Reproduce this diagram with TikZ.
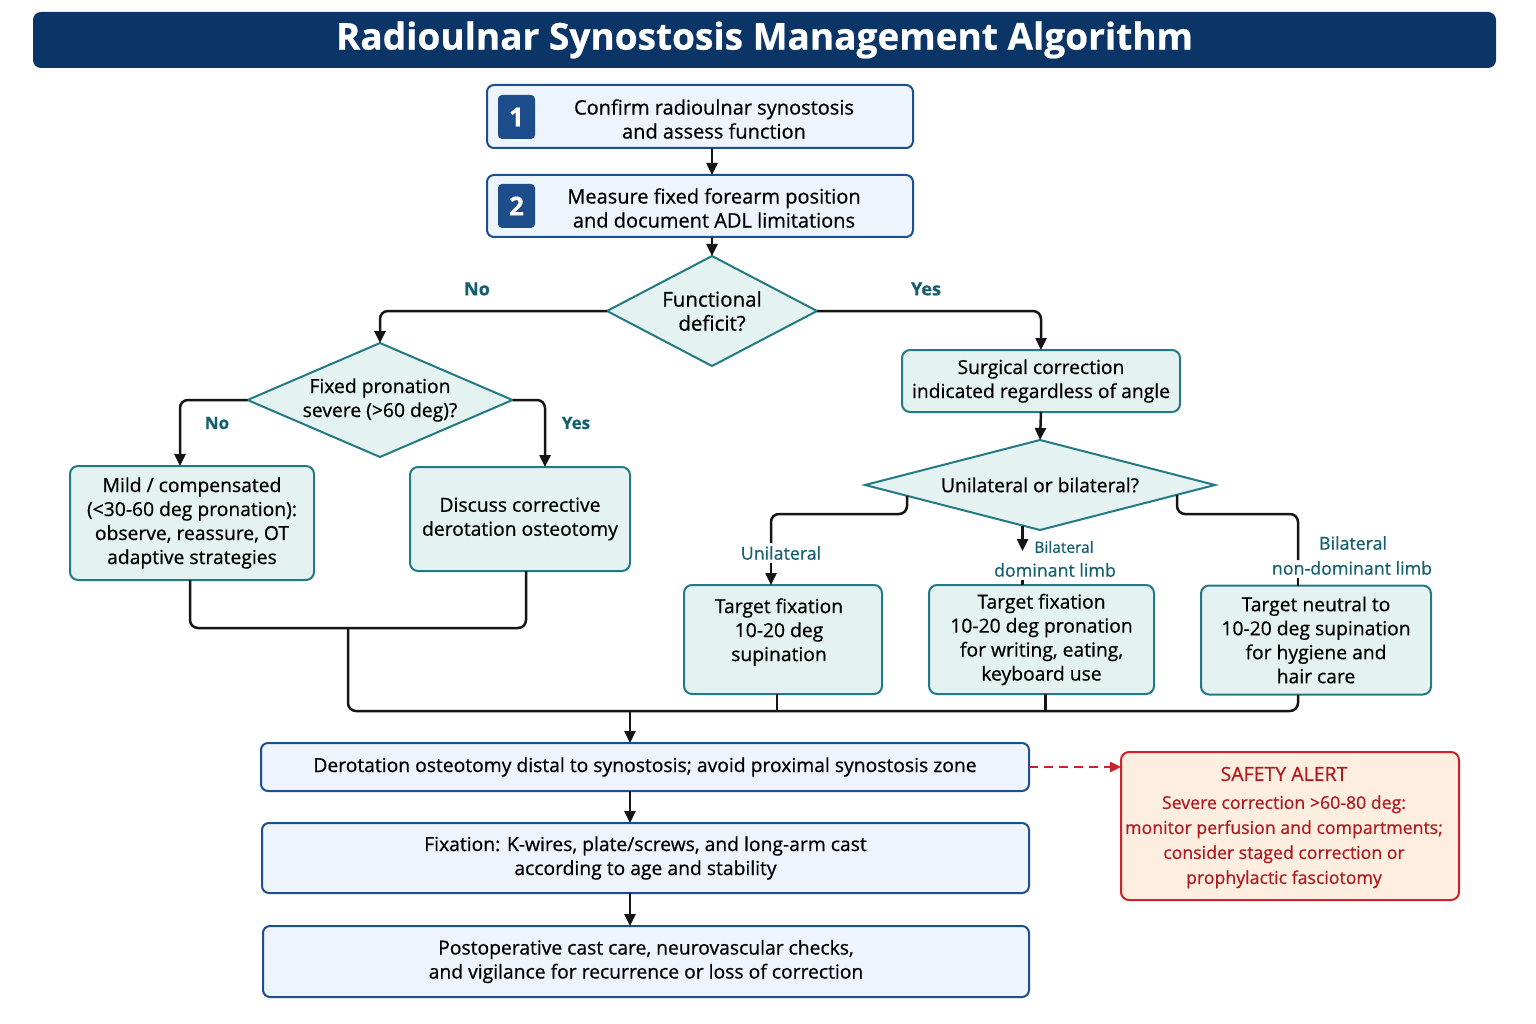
\documentclass[tikz,border=0pt]{standalone}
\usepackage{fontspec}
\IfFontExistsTF{FiraSans-Medium.otf}{%
  \setmainfont{FiraSans}[Extension=.otf, UprightFont=*-Medium, BoldFont=*-SemiBold]%
}{%
  \setmainfont{Open Sans}[FakeBold=0.6]%
}
\usetikzlibrary{shapes.geometric,arrows.meta,calc}
\definecolor{navy}{HTML}{0B3566}
\definecolor{blueb}{HTML}{1C4F92}
\definecolor{bluef}{HTML}{EEF4FC}
\definecolor{badgec}{HTML}{1E4D8C}
\definecolor{tealb}{HTML}{237A84}
\definecolor{tealf}{HTML}{E5F2F2}
\definecolor{labc}{HTML}{156070}
\definecolor{redb}{HTML}{CC2229}
\definecolor{redt}{HTML}{AE1A20}
\definecolor{redf}{HTML}{FDEEDF}
\definecolor{linec}{HTML}{151515}
\begin{document}
\begin{tikzpicture}[x=1pt,y=-1pt,
  every node/.style={inner sep=0pt, outer sep=0pt},
  bluebox/.style={draw=blueb, fill=bluef, line width=2pt, rounded corners=7pt, align=center, font=\fontsize{19.3}{24}\selectfont},
  tealbox/.style={draw=tealb, fill=tealf, line width=2pt, rounded corners=8pt, align=center, font=\fontsize{19.3}{24}\selectfont},
  dia/.style={diamond, draw=tealb, fill=tealf, line width=2pt, align=center, font=\fontsize{19.3}{24}\selectfont},
  badge/.style={fill=badgec, rounded corners=4pt, minimum width=37pt, minimum height=44pt, text=white, font=\bfseries\fontsize{26}{26}\selectfont},
  txt/.style={align=center, font=\fontsize{20}{24}\selectfont},
  lab/.style={inner sep=3pt, text=labc, font=\bfseries\fontsize{18}{20}\selectfont},
  slab/.style={inner sep=3pt, text=labc, font=\fontsize{17.8}{20}\selectfont},
  conn/.style={draw=linec, line width=2.5pt, rounded corners=8pt},
  arr/.style={conn, -{Triangle[length=12pt,width=11pt]}},
]
\useasboundingbox (0,0) rectangle (1536,1024);
\fill[white] (0,0) rectangle (1536,1024);

% title
\node[fill=navy, rounded corners=8pt, minimum width=1463pt, minimum height=56pt,
      text=white, font=\bfseries\fontsize{37}{40}\selectfont] (title) at (764.5,40) {Radioulnar Synostosis Management Algorithm};

% steps 1 and 2
\node[bluebox, minimum width=426pt, minimum height=63pt] (b1) at (700,116.5) {};
\node[txt] (b1t) at (714,119) {Confirm radioulnar synostosis\\and assess function};
\node[badge] (n1) at (516.5,117) {1};
\node[bluebox, minimum width=426pt, minimum height=62pt] (b2) at (700,206) {};
\node[txt] (b2t) at (714,208) {Measure fixed forearm position\\and document ADL limitations};
\node[badge] (n2) at (516.5,206) {2};

% decision 1
\node[dia, aspect=1.91, minimum width=210pt, minimum height=110pt, font=\fontsize{20.5}{24}\selectfont] (d1) at (712,311) {Functional\\deficit?};
\draw[arr] (b1.south -| d1) -- (b2.north -| d1);
\draw[arr] (b2.south -| d1) -- (d1.north);

\node[lab] (no1) at (477,289) {No};
\node[lab] (yes1) at (926,289) {Yes};

% left branch
\node[dia, aspect=2.32, minimum width=265pt, minimum height=114pt] (d2) at (380,400) {Fixed pronation\\severe (>60 deg)?};
\draw[arr] (d1.west) -| (d2.north);
\node[tealbox, minimum width=244pt, minimum height=114pt] (m) at (192,523) {Mild / compensated\\(<30-60 deg pronation):\\observe, reassure, OT\\adaptive strategies};
\node[tealbox, minimum width=220pt, minimum height=104pt] (dsc) at (520,519) {Discuss corrective\\derotation osteotomy};
\draw[arr] (d2.west) -| ([xshift=-12pt]m.north);
\draw[arr] (d2.east) -| ([xshift=25pt]dsc.north);
\node[lab, font=\bfseries\fontsize{17}{20}\selectfont] (no2) at (217,423) {No};
\node[lab, font=\bfseries\fontsize{17}{20}\selectfont] (yes2) at (576,423) {Yes};

% right branch
\node[tealbox, minimum width=278pt, minimum height=62pt] (s1) at (1041,381) {Surgical correction\\indicated regardless of angle};
\draw[arr] (d1.east) -| (s1.north);
\node[dia, aspect=3.89, minimum width=350pt, minimum height=90pt] (d3) at (1040,485) {Unilateral or bilateral?};
\draw[arr] (s1.south) -- (d3.north);

\node[tealbox, minimum width=198pt, minimum height=109pt] (tu) at (783,639.5) {};
\node[align=center, font=\fontsize{19.3}{24}\selectfont] (tut) at (779,632) {Target fixation\\10-20 deg\\supination};
\node[tealbox, minimum width=225pt, minimum height=109pt] (td) at (1041.5,639.5) {Target fixation\\10-20 deg pronation\\for writing, eating,\\keyboard use};
\node[tealbox, minimum width=230pt, minimum height=109pt] (tn) at (1316,640) {Target neutral to\\10-20 deg supination\\for hygiene and\\hair care};

% unilateral
\coordinate (u0) at ($(d3.west)!0.24!(d3.south)$);
\coordinate (uk) at (771,514);
\node[slab] (ulab) at (781,553) {Unilateral};
\draw[conn] (u0) |- (uk) -- (uk |- ulab.north);
\draw[arr] (uk |- ulab.south) -- (uk |- tu.north);

% bilateral dominant
\coordinate (m0) at ($(d3.south)!0.1!(d3.west)$);
\node[slab, font=\fontsize{15.5}{16}\selectfont] (blab) at (1064,547) {Bilateral};
\node[slab] (dlab) at (1055,570) {dominant limb};
\coordinate (mk) at (m0 |- blab.center);
\draw[arr] (m0) -- ([yshift=-4pt]mk);
\draw[conn] (m0 |- dlab.south) -- (m0 |- td.north);

% bilateral non-dominant
\coordinate (r0) at ($(d3.east)!0.217!(d3.south)$);
\coordinate (rk) at (1298,514);
\node[slab] (b2lab) at (1353,543) {Bilateral};
\node[slab] (nlab) at (1352,568) {non-dominant limb};
\draw[conn] (r0) |- (rk) -- ([yshift=-2pt]rk |- nlab.north);
\draw[conn] (rk |- nlab.south) -- (rk |- tn.north);

% bottom boxes
\node[bluebox, minimum width=768pt, minimum height=48pt] (der) at (645,767) {Derotation osteotomy distal to synostosis; avoid proximal synostosis zone};
\node[bluebox, minimum width=767pt, minimum height=70pt] (fx) at (645.5,858) {Fixation: K-wires, plate/screws, and long-arm cast\\according to age and stability};
\node[bluebox, minimum width=766pt, minimum height=71pt] (po) at (646,961.5) {Postoperative cast care, neurovascular checks,\\and vigilance for recurrence or loss of correction};

% merges
\coordinate (jl) at (348,628);
\coordinate (jb) at (348,711);
\coordinate (ja) at (630,711);
\draw[conn] ([xshift=-2pt]m.south) |- (jl) -| ([xshift=6pt]dsc.south);
\draw[conn] (jl) -- (jb) -- (jb -| rk) -- (rk |- tn.south);
\draw[conn] ([xshift=-6pt]tu.south) -- ([xshift=-6pt]tu.south |- jb);
\draw[conn] ([xshift=4pt]td.south) -- ([xshift=4pt]td.south |- jb);
\draw[arr] (ja) -- (ja |- der.north);
\draw[arr] (der.south -| ja) -- (fx.north -| ja);
\draw[arr] (fx.south -| ja) -- (po.north -| ja);

% safety alert
\node[draw=redb, fill=redf, line width=2pt, rounded corners=8pt, minimum width=338pt, minimum height=148pt] (sa) at (1290,826) {};
\node[align=center, text=redt, font=\fontsize{17.7}{25}\selectfont] (sat) at (1284,827.5) {{\fontsize{19.5}{25}\selectfont SAFETY ALERT}\\[3pt]Severe correction >60-80 deg:\\monitor perfusion and compartments;\\consider staged correction or\\prophylactic fasciotomy};
\draw[draw=redb, line width=2.4pt, dashed, dash pattern=on 9pt off 6pt, -{Triangle[length=11pt,width=10pt]}] (der.east) -- (der.east -| sa.west);
\end{tikzpicture}
\end{document}
